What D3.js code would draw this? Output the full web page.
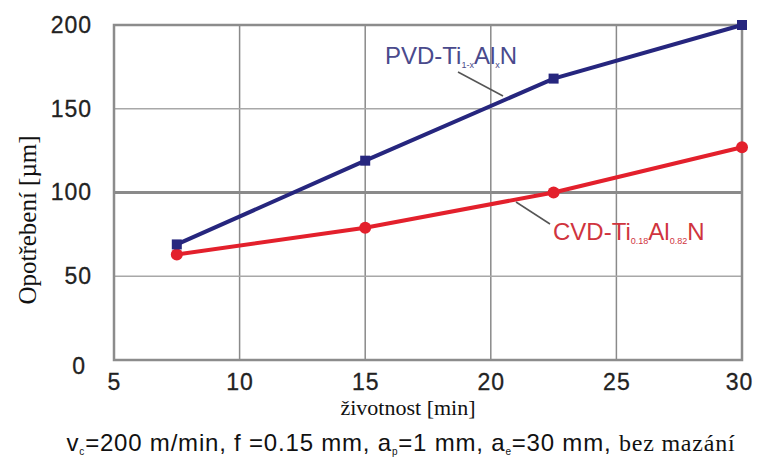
<!DOCTYPE html>
<html lang="cs">
<head>
<meta charset="utf-8">
<title>Opotřebení vs. životnost</title>
<script src="https://d3js.org/d3.v7.min.js"></script>
<style>
  body { margin: 0; background: #fff; }
  .tick text { font-family: "Liberation Sans", Arial, sans-serif; font-size: 23px; fill: #222; stroke: #222; stroke-width: 0.3px; letter-spacing: 1px; }
  .serif { font-family: "Liberation Serif", "Times New Roman", serif; }
  .sans { font-family: "Liberation Sans", Arial, sans-serif; }
</style>
</head>
<body>
<div id="chart"></div>
<script>
// data
var times = [7.5, 15, 22.5, 30];
var pvdWear = [69, 119, 168, 200];
var cvdWear = [63, 79, 100, 127];
var xTicks = [5, 10, 15, 20, 25, 30];
var yTicks = [0, 50, 100, 150, 200];

var W = 757, H = 463;
var margin = {top: 25, right: 15, bottom: 103, left: 114};
var width = W - margin.left - margin.right,
    height = H - margin.top - margin.bottom;

var svg = d3.select("#chart").append("svg")
    .attr("width", W).attr("height", H);
var g = svg.append("g")
    .attr("transform", "translate(" + margin.left + "," + margin.top + ")");

var x = d3.scaleLinear().domain([5, 30]).range([0, width]);
var y = d3.scaleLinear().domain([0, 200]).range([height, 0]);

// grid
g.selectAll(".vgrid").data(xTicks.slice(1, -1)).enter().append("line")
    .attr("x1", d => x(d)).attr("x2", d => x(d))
    .attr("y1", 0).attr("y2", height)
    .attr("stroke", "#8a8a8a").attr("stroke-width", 1.5);
g.selectAll(".hgrid").data(yTicks.slice(1, -1)).enter().append("line")
    .attr("x1", 0).attr("x2", width)
    .attr("y1", d => y(d)).attr("y2", d => y(d))
    .attr("stroke", d => d == 100 ? "#8a8a8a" : "#a8a8a8")
    .attr("stroke-width", d => d == 100 ? 3 : 1.5);

// frame
g.append("rect").attr("width", width).attr("height", height)
    .attr("fill", "none").attr("stroke", "#8c8c8c").attr("stroke-width", 2.5);

// axes (labels only)
var xAxis = g.append("g")
    .attr("transform", "translate(0," + height + ")")
    .call(d3.axisBottom(x).tickValues(xTicks).tickSize(0).tickPadding(14).tickFormat(d3.format("d")));
xAxis.select(".domain").remove();
xAxis.selectAll(".tick").filter(d => d == 30).select("text").attr("dx", -3);
var yAxis = g.append("g")
    .call(d3.axisLeft(y).tickValues(yTicks).tickSize(0).tickPadding(22).tickFormat(d3.format("d")));
yAxis.select(".domain").remove();
yAxis.selectAll(".tick").filter(d => d == 0).select("text").attr("dx", -6).attr("dy", "0.6em");

// series
var line = d3.line().x(d => x(d[0])).y(d => y(d[1]));
var pvd = times.map((t, i) => [t, pvdWear[i]]);
var cvd = times.map((t, i) => [t, cvdWear[i]]);

g.append("path").datum(cvd).attr("d", line)
    .attr("fill", "none").attr("stroke", "#e3202c").attr("stroke-width", 4);
g.selectAll(".cvdpt").data(cvd).enter().append("circle")
    .attr("cx", d => x(d[0])).attr("cy", d => y(d[1])).attr("r", 6)
    .attr("fill", "#e3202c");

g.append("path").datum(pvd).attr("d", line)
    .attr("fill", "none").attr("stroke", "#26267e").attr("stroke-width", 4);
g.selectAll(".pvdpt").data(pvd).enter().append("rect")
    .attr("x", d => x(d[0]) - 5).attr("y", d => y(d[1]) - 5)
    .attr("width", 10).attr("height", 10)
    .attr("fill", "#26267e");

// series labels with leader lines
svg.append("line").attr("x1", 458).attr("y1", 72).attr("x2", 503).attr("y2", 96)
    .attr("stroke", "#555").attr("stroke-width", 1.5);
var t1 = svg.append("text").attr("class", "sans").attr("x", 385).attr("y", 64)
    .attr("font-size", 24).attr("fill", "#4a4a8c");
t1.append("tspan").text("PVD-Ti");
t1.append("tspan").attr("font-size", 9).attr("dy", 4).text("1-x");
t1.append("tspan").attr("dy", -4).text("Al");
t1.append("tspan").attr("font-size", 9).attr("dy", 4).text("x");
t1.append("tspan").attr("dy", -4).text("N");

svg.append("line").attr("x1", 516).attr("y1", 202).attr("x2", 550).attr("y2", 224)
    .attr("stroke", "#555").attr("stroke-width", 1.5);
var t2 = svg.append("text").attr("class", "sans").attr("x", 553).attr("y", 240)
    .attr("font-size", 24).attr("fill", "#d0343e");
t2.append("tspan").text("CVD-Ti");
t2.append("tspan").attr("font-size", 9).attr("dy", 4).text("0.18");
t2.append("tspan").attr("dy", -4).text("Al");
t2.append("tspan").attr("font-size", 9).attr("dy", 4).text("0.82");
t2.append("tspan").attr("dy", -4).text("N");

// axis titles
svg.append("text").attr("class", "serif")
    .attr("x", 408).attr("y", 415)
    .attr("text-anchor", "middle").attr("font-size", 22).attr("fill", "#111")
    .text("životnost [min]");
svg.append("text").attr("class", "serif")
    .attr("transform", "translate(36,220) rotate(-90)")
    .attr("text-anchor", "middle").attr("font-size", 25).attr("fill", "#111")
    .text("Opotřebení [µm]");

// cutting conditions
var c = svg.append("text").attr("x", 401).attr("y", 451)
    .attr("text-anchor", "middle").attr("font-size", 24).attr("fill", "#111")
    .attr("letter-spacing", 0.8);
function sub(s) {
  c.append("tspan").attr("class", "sans").attr("font-size", 10).attr("dy", 4).text(s);
}
function txt(s, cls) {
  c.append("tspan").attr("class", cls || "sans").attr("dy", -4).text(s);
}
c.append("tspan").attr("class", "sans").text("v");
sub("c");
txt("=200 m/min, f =0.15 mm, a");
sub("p");
txt("=1 mm, a");
sub("e");
txt("=30 mm, ");
c.append("tspan").attr("class", "serif").text("bez mazání");
</script>
</body>
</html>
